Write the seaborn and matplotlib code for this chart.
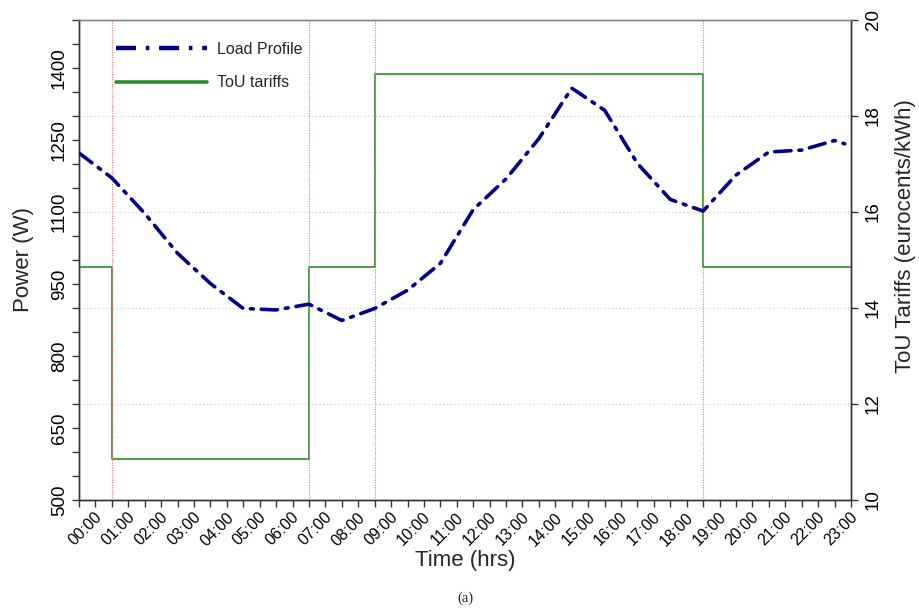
import numpy as np
import pandas as pd
import matplotlib
matplotlib.use("Agg")
import matplotlib.pyplot as plt
from matplotlib.ticker import MultipleLocator
from matplotlib.lines import Line2D
import seaborn as sns

# Household load profile (W) sampled hourly, last sample just after 23:00
load_hours = [0, 1, 2, 3, 4, 5, 6, 7, 8, 9, 10, 11, 12, 13, 14, 15, 16, 17,
              18, 19, 20, 21, 22, 23, 23.31]
load_watts = [1223, 1171, 1097, 1014, 951, 899, 896, 908, 874, 899, 937, 993,
              1105, 1169, 1253, 1358, 1312, 1201, 1126, 1102, 1177, 1225,
              1229, 1249, 1242]

# Time-of-use tariff schedule (eurocents/kWh), step changes at these hours
tariff_hours = [0, 1, 7, 9, 19, 23.5]
tariff_rates = [14.85, 10.85, 14.85, 18.88, 14.85, 14.85]

# Tariff period boundaries
boundary_hours = [1, 7, 9, 19]

hour_ticks = list(range(24))
hour_labels = [f"{h:02d}:00" for h in hour_ticks]
power_ticks = [500, 650, 800, 950, 1100, 1250, 1400]
tariff_ticks = [10, 12, 14, 16, 18, 20]

sns.set_theme(style="ticks")
plt.rcParams["font.family"] = ["Liberation Sans", "DejaVu Sans"]

load_color = "#00008B"
tariff_color = "#2a8f2a"
spine_color = "#333333"
dash_dot = (0, (4.5, 2.2, 0.8, 2.2))
label_nudge = 0.2  # hours; rotated hour labels sit slightly right of their tick

fig = plt.figure(figsize=(9.2, 6.14), dpi=100)
ax = fig.add_axes([79 / 920, 1 - 500 / 614, 772 / 920, 480 / 614])
ax2 = ax.twinx()

load_df = pd.DataFrame({"hour": load_hours, "power": load_watts})
tariff_df = pd.DataFrame({"hour": tariff_hours, "rate": tariff_rates})

# boundaries between tariff periods
for h in boundary_hours:
    ax.axvline(h, color="#ff7070", lw=0.8, ls=(0, (1, 1.2)), zorder=1)

sns.lineplot(data=load_df, x="hour", y="power", ax=ax, color=load_color,
             lw=2.6, linestyle=dash_dot, dash_capstyle="round", zorder=4)
sns.lineplot(data=tariff_df, x="hour", y="rate", ax=ax2,
             drawstyle="steps-post", color=tariff_color, lw=1.2, zorder=3)

ax.set_zorder(ax2.get_zorder() + 1)
ax.patch.set_visible(False)

# Left axis: power
ax.set_xlim(0, 23.5)
ax.set_ylim(500, 1500)
ax.set_yticks(power_ticks)
ax.set_yticklabels([str(v) for v in power_ticks], rotation=90, va="center",
                   fontsize=13.5)
ax.yaxis.set_minor_locator(MultipleLocator(50))

# Time axis: tick marks every half hour, hour labels carried by major ticks
ax.set_xticks([h + label_nudge for h in hour_ticks])
ax.set_xticklabels(hour_labels, rotation=45, ha="center", fontsize=11.5)
ax.xaxis.set_minor_locator(MultipleLocator(0.5))

# Right axis: tariffs
ax2.set_ylim(10, 20)
ax2.set_yticks(tariff_ticks)
ax2.set_yticklabels([str(v) for v in tariff_ticks], rotation=90, va="center",
                    fontsize=13.5)
ax2.yaxis.grid(True, linestyle=(0, (1, 2)), color="#d0d0d0", lw=0.9)
ax2.set_axisbelow(True)

for a in (ax, ax2):
    a.tick_params(axis="both", which="both", direction="out", length=5,
                  width=1, color=spine_color, labelcolor="black")
    for side in ("left", "right", "bottom"):
        a.spines[side].set_color(spine_color)
        a.spines[side].set_linewidth(1)
    a.spines["top"].set_color("#888888")
    a.spines["top"].set_linewidth(1)
    a.spines["top"].set_visible(True)
ax.tick_params(axis="y", pad=3)
ax2.tick_params(axis="y", pad=5)
ax.tick_params(axis="x", which="major", length=0, pad=7)

ax.set_xlabel("Time (hrs)", fontsize=16)
ax.xaxis.set_label_coords(0.5, -0.104)
ax.set_ylabel("Power (W)", fontsize=16)
ax.yaxis.set_label_coords(-0.058, 0.5)
ax2.set_ylabel("ToU Tariffs (eurocents/kWh)", fontsize=16, rotation=90)
ax2.yaxis.set_label_coords(1.057, 0.55)

handles = [
    Line2D([], [], color=load_color, lw=3.2, linestyle=dash_dot),
    Line2D([], [], color=tariff_color, lw=2.6),
]
leg = ax.legend(handles, ["Load Profile", "ToU tariffs"], loc="upper left",
                bbox_to_anchor=(0.048, 0.955), frameon=False, fontsize=11.5,
                handlelength=5.7, handletextpad=0.6, labelspacing=1.18,
                borderpad=0, borderaxespad=0)

fig.text(465 / 920, 1 - 598 / 614, "(a)", ha="center", va="center",
         fontsize=10.5, family=["Liberation Serif", "DejaVu Serif"])

fig.savefig("out.png", dpi=100)
